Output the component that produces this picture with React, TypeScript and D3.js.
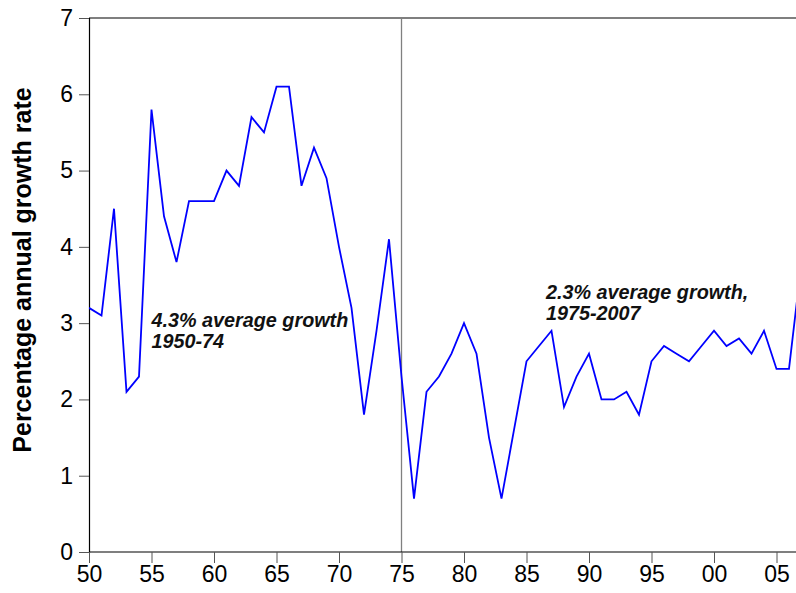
import { useEffect, useRef } from 'react';
import * as d3 from 'd3';

const years: number[] = d3.range(1950, 2008);

// annual growth rate, %
const growth: number[] = [
  3.2, 3.1, 4.5, 2.1, 2.3, 5.8, 4.4, 3.8, 4.6, 4.6,
  4.6, 5.0, 4.8, 5.7, 5.5, 6.1, 6.1, 4.8, 5.3, 4.9,
  4.0, 3.2, 1.8, 2.9, 4.1, 2.3, 0.7, 2.1, 2.3, 2.6,
  3.0, 2.6, 1.5, 0.7, 1.6, 2.5, 2.7, 2.9, 1.9, 2.3,
  2.6, 2.0, 2.0, 2.1, 1.8, 2.5, 2.7, 2.6, 2.5, 2.7,
  2.9, 2.7, 2.8, 2.6, 2.9, 2.4, 2.4, 3.8,
];

const xTicks: number[] = [1950, 1955, 1960, 1965, 1970, 1975, 1980, 1985, 1990, 1995, 2000, 2005];
const yTicks: number[] = [0, 1, 2, 3, 4, 5, 6, 7];

const notes = [
  { year: 1955, value: 2.95, lines: ['4.3% average growth', '1950-74'] },
  { year: 1986.56, value: 3.32, lines: ['2.3% average growth,', '1975-2007'] },
];

const W = 796;
const H = 593;

const App = () => {
  const ref = useRef<SVGSVGElement>(null);

  useEffect(() => {
    if (!ref.current) return;
    const svg = d3.select(ref.current);
    svg.selectAll('*').remove();

    const left = 89, top = 18, bottom = 552;
    // plot runs off the right edge of the picture
    const x = d3.scaleLinear().domain([1950, 2006.56]).range([left, W]);
    const y = d3.scaleLinear().domain([0, 7]).range([bottom, top]);

    svg.append('clipPath').attr('id', 'plot')
      .append('rect')
      .attr('x', left).attr('y', top - 2)
      .attr('width', W - left).attr('height', bottom - top + 4);

    // top frame
    svg.append('line')
      .attr('x1', left).attr('x2', W)
      .attr('y1', top).attr('y2', top)
      .attr('stroke', '#000').attr('stroke-width', 1.2);

    // break line at 1975
    svg.append('line')
      .attr('x1', x(1975)).attr('x2', x(1975))
      .attr('y1', top).attr('y2', bottom)
      .attr('stroke', '#808080').attr('stroke-width', 1.3);

    // y axis
    const yAxis = svg.append('g')
      .attr('transform', `translate(${left},0)`)
      .call(d3.axisLeft(y).tickValues(yTicks).tickSize(10).tickPadding(6).tickFormat(d3.format('d')));
    yAxis.select('.domain').attr('stroke', '#000').attr('stroke-width', 1.2);
    yAxis.selectAll('.tick line').attr('stroke', '#555');
    yAxis.selectAll('.tick text')
      .attr('font-family', 'Liberation Sans, Arial, sans-serif')
      .attr('font-size', 23).attr('fill', '#000');

    // x axis
    const xAxis = svg.append('g')
      .attr('transform', `translate(0,${bottom})`)
      .call(d3.axisBottom(x).tickValues(xTicks).tickSize(11).tickPadding(3)
        .tickFormat(d => String(+d % 100).padStart(2, '0')));
    xAxis.select('.domain').attr('stroke', '#000').attr('stroke-width', 1.2).attr('d', `M${left},0H${W}`);
    xAxis.selectAll('.tick line').attr('stroke', '#555');
    xAxis.selectAll('.tick text')
      .attr('font-family', 'Liberation Sans, Arial, sans-serif')
      .attr('font-size', 23).attr('fill', '#000');

    // y label
    svg.append('text')
      .attr('transform', `translate(31,${(87 + 453) / 2}) rotate(-90)`)
      .attr('text-anchor', 'middle')
      .attr('font-family', 'Liberation Sans, Arial, sans-serif')
      .attr('font-weight', 'bold')
      .attr('font-size', 25)
      .text('Percentage annual growth rate');

    // growth series
    const line = d3.line<number>()
      .x((_, i) => x(years[i]))
      .y(d => y(d));

    svg.append('path')
      .datum(growth)
      .attr('clip-path', 'url(#plot)')
      .attr('d', line)
      .attr('fill', 'none')
      .attr('stroke', '#0000ff')
      .attr('stroke-width', 1.8)
      .attr('stroke-linejoin', 'miter');

    // annotations
    notes.forEach(n => {
      const t = svg.append('text')
        .attr('x', x(n.year)).attr('y', y(n.value))
        .attr('font-family', 'Liberation Sans, Arial, sans-serif')
        .attr('font-weight', 'bold')
        .attr('font-style', 'italic')
        .attr('font-size', 19.8)
        .attr('fill', '#111');
      n.lines.forEach((s, i) => {
        t.append('tspan').attr('x', x(n.year)).attr('dy', i === 0 ? 0 : 21).text(s);
      });
    });
  }, []);

  return (
    <svg ref={ref} width={W} height={H}
      style={{ position: 'absolute', left: 0, top: 0, background: '#fff' }} />
  );
};

export default App;
